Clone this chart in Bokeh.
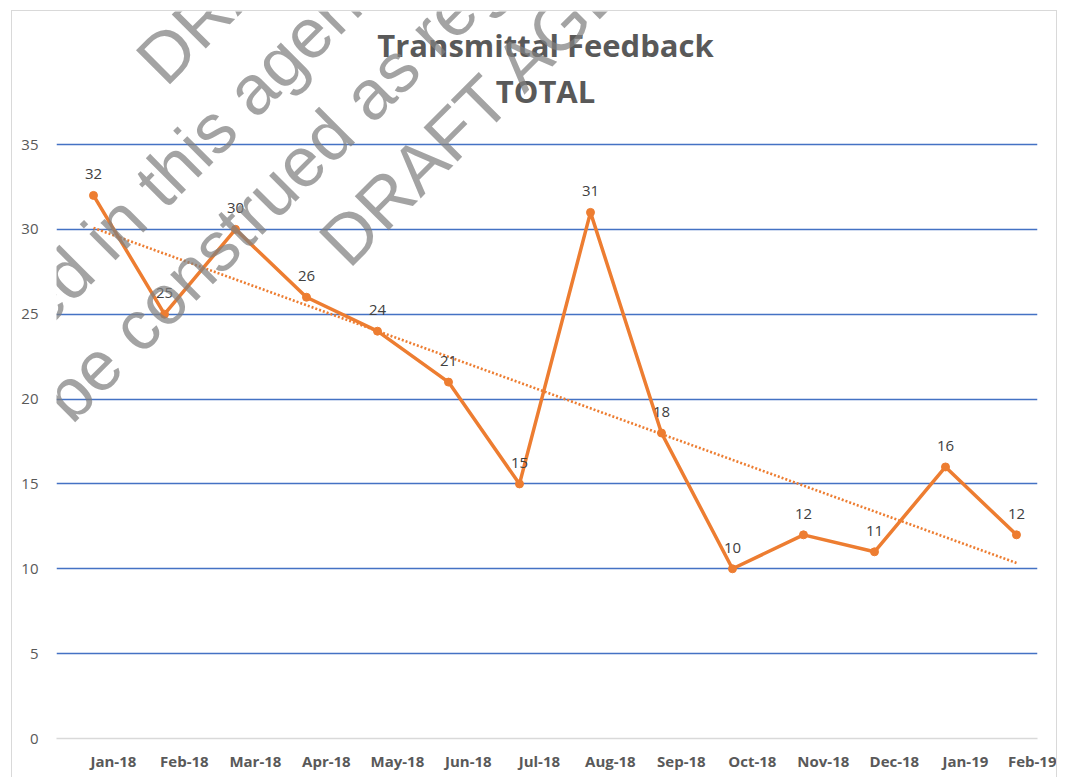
import numpy as np
from bokeh.plotting import figure
from bokeh.models import ColumnDataSource, LabelSet, Label, FixedTicker, Range1d
from bokeh.core.properties import value
from bokeh.embed import file_html
from bokeh.resources import INLINE

# ---- data ----
months = ["Jan-18", "Feb-18", "Mar-18", "Apr-18", "May-18", "Jun-18", "Jul-18",
          "Aug-18", "Sep-18", "Oct-18", "Nov-18", "Dec-18", "Jan-19", "Feb-19"]
totals = [32, 25, 30, 26, 24, 21, 15, 31, 18, 10, 12, 11, 16, 12]
y_ticks = [0, 5, 10, 15, 20, 25, 30, 35]
title_lines = ["Transmittal Feedback", "TOTAL"]
watermark_lines = ["DRAFT AGENDA",
                   "contained in this agenda",
                   "not to be construed as regulatory",
                   "DRAFT AGENDA"]

idx = np.arange(len(totals))
slope, intercept = np.polyfit(idx, totals, 1)
trend = slope * idx + intercept

src = ColumnDataSource(dict(x=idx, y=totals, lab=[str(v) for v in totals]))
tsrc = ColumnDataSource(dict(x=[idx[0], idx[-1]], y=[trend[0], trend[-1]]))

ORANGE = "#ED7D31"
GRID = "#4472C4"
TXT = "#595959"

# layout (page pixels): chart box border at x=11 / y=10 / x=1058,
# frame spans x 56..1037, y 11..738, value 35 at y=144
PX_PER_UNIT = 594.0 / 35.0
Y_TOP = (738.0 - 11.0) / PX_PER_UNIT

p = figure(width=1046, height=767, output_backend="svg", toolbar_location=None,
           x_range=Range1d(-0.5211, 13.296), y_range=Range1d(0, Y_TOP),
           min_border_left=44, min_border_right=21, min_border_top=0,
           min_border_bottom=40)
p.styles = {"margin-left": "11px", "margin-top": "10px",
            "border-left": "1px solid #d9d9d9", "border-top": "1px solid #d9d9d9",
            "border-right": "1px solid #d9d9d9"}
p.outline_line_color = None
p.background_fill_color = "white"
p.border_fill_color = "white"

# grid
p.xgrid.visible = False
p.ygrid.ticker = FixedTicker(ticks=y_ticks[1:])
p.ygrid.grid_line_color = GRID
p.ygrid.grid_line_width = 1.6

# y axis
p.yaxis.ticker = FixedTicker(ticks=y_ticks)
p.yaxis.axis_line_color = None
p.yaxis.major_tick_line_color = None
p.yaxis.minor_tick_line_color = None
p.yaxis.major_label_standoff = 12
p.yaxis.major_label_text_font = "Open Sans"
p.yaxis.major_label_text_font_size = "15px"
p.yaxis.major_label_text_color = TXT

# x axis: labels sit slightly right of the points, as in the reference
tick_pos = [float(i) + 0.28 for i in idx]
p.xaxis.ticker = FixedTicker(ticks=tick_pos)
p.xaxis.major_label_overrides = {t: m for t, m in zip(tick_pos, months)}
p.xaxis.axis_line_color = "#d9d9d9"
p.xaxis.axis_line_width = 1.6
p.xaxis.major_tick_line_color = None
p.xaxis.minor_tick_line_color = None
p.xaxis.major_label_standoff = 6
p.xaxis.major_label_text_font = "Open Sans"
p.xaxis.major_label_text_font_style = "bold"
p.xaxis.major_label_text_font_size = "15px"
p.xaxis.major_label_text_color = TXT

# series
p.line("x", "y", source=tsrc, line_color=ORANGE, line_width=2.6, line_dash="2 2")
p.line("x", "y", source=src, line_color=ORANGE, line_width=3.5)
p.scatter("x", "y", source=src, size=8, fill_color=ORANGE, line_color=ORANGE)

p.add_layout(LabelSet(x="x", y="y", text="lab", source=src, y_offset=21,
                      text_align="center", text_baseline="middle",
                      text_font=value("Open Sans"), text_font_size="15px",
                      text_color="#404040"))

# pixel helpers for annotation placement (page px -> data)
def dx(px):
    return (px - 93.0) / 71.0

def dy(py):
    return (738.0 - py) / PX_PER_UNIT

# title
for txt, base in zip(title_lines, [44, 90]):
    p.add_layout(Label(x=dx(545), y=dy(base), text=txt, text_align="center",
                       text_baseline="alphabetic", text_font="Open Sans",
                       text_font_style="bold", text_font_size="31px",
                       text_color=TXT))

# watermark (rotated 45 deg)
r2 = np.sqrt(2.0)
for txt, s, d in zip(watermark_lines, [55, -430, -444.5, 56], [182, 268, 354, 440]):
    d_anchor = d - 27
    px = (d_anchor + s) / r2
    py = (d_anchor - s) / r2
    p.add_layout(Label(x=dx(px), y=dy(py), text=txt, angle=45, angle_units="deg",
                       text_align="left", text_baseline="alphabetic",
                       text_font="Liberation Sans", text_font_size="70px",
                       text_color="#808080", text_alpha=0.72))

open("out.html", "w").write(file_html(p, INLINE))
